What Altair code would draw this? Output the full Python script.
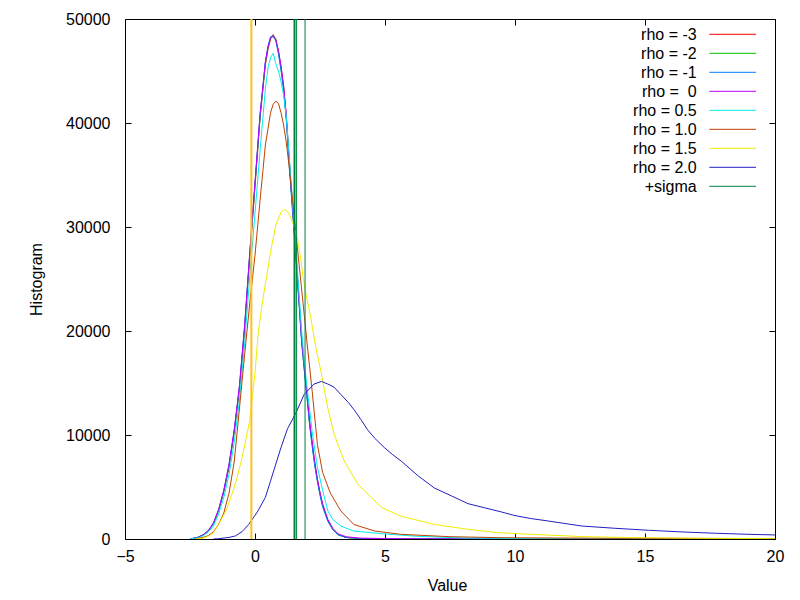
import altair as alt
import pandas as pd

# ---------------- data ----------------
names = ["rho = -3", "rho = -2", "rho = -1", "rho = \u00a00", "rho = 0.5",
         "rho = 1.0", "rho = 1.5", "rho = 2.0"]
colors = ["#ff0000", "#00c000", "#0080ff", "#c000ff", "#00eeee",
          "#c04000", "#eeee00", "#2020c0"]
sigma_name = "+sigma"
sigma_color = "#008040"
mean_color = "#ffc020"

x_main = [-2.5, -2.4, -2.2, -2.0, -1.8, -1.6, -1.4, -1.2, -1.0, -0.8, -0.6, -0.4, -0.2,
          0.0, 0.2, 0.4, 0.5, 0.6, 0.7, 0.8, 0.9, 1.0, 1.1, 1.2, 1.3, 1.4, 1.5, 1.6, 1.7,
          1.8, 1.9, 2.0, 2.1, 2.2, 2.3, 2.4, 2.5, 2.6, 2.8, 3.0, 3.2, 3.5, 4.0, 5.0, 6.0,
          8.0, 10.0, 14.0, 20.0]
y_rho_m3 = [0, 40, 150, 380, 750, 1450, 2700, 4500, 6900, 10200, 14300, 20000, 27200,
            33900, 40600, 45600, 47100, 48100, 48500, 48000, 46900, 45400, 43500, 40800,
            37000, 33400, 30000, 26400, 22700, 19000, 16400, 13900, 11200, 9200, 7200,
            5700, 4400, 3300, 1800, 900, 420, 150, 50, 20, 10, 5, 3, 1, 0]
y_rho_m2 = [0, 60, 170, 400, 780, 1500, 2750, 4600, 7000, 10300, 14500, 20300, 27400,
            34100, 40800, 45800, 47300, 48200, 48400, 48100, 46800, 45200, 43300, 40600,
            36800, 33200, 29800, 26200, 22500, 18800, 16200, 13700, 11000, 9000, 7100,
            5600, 4300, 3200, 1750, 880, 400, 140, 45, 18, 9, 4, 2, 1, 0]
y_rho_m1 = [0, 50, 160, 390, 770, 1480, 2800, 4650, 7100, 10400, 14600, 20400, 27500,
            34200, 40900, 45900, 47400, 48300, 48400, 47900, 46700, 45100, 43100, 40400,
            36600, 33000, 29600, 26000, 22400, 18700, 16100, 13600, 11000, 8900, 7000,
            5500, 4200, 3100, 1700, 860, 400, 150, 50, 20, 10, 5, 2, 1, 0]
y_rho_0 = [0, 50, 150, 400, 800, 1550, 2850, 4700, 7200, 10500, 14700, 20500, 27600,
           34300, 41000, 45900, 47300, 48200, 48300, 48000, 47000, 45500, 43600, 40900,
           37100, 33500, 30100, 26500, 22800, 19100, 16500, 14000, 11400, 9300, 7400,
           5800, 4500, 3400, 1900, 1000, 500, 220, 90, 40, 20, 8, 4, 2, 0]

x_rho_05 = [-2.5, -2.2, -2.0, -1.8, -1.6, -1.4, -1.2, -1.0, -0.8, -0.6, -0.4, -0.2, 0.0,
            0.2, 0.4, 0.5, 0.6, 0.7, 0.8, 0.9, 1.0, 1.1, 1.2, 1.3, 1.4, 1.5, 1.6, 1.7,
            1.8, 1.9, 2.0, 2.2, 2.4, 2.6, 2.8, 3.0, 3.3, 3.8, 5.0, 6.3, 8.0, 10.0, 14.0, 20.0]
y_rho_05 = [0, 100, 300, 650, 1250, 2400, 4000, 6200, 9300, 13300, 18800, 25300, 31300,
            37500, 43300, 45300, 46300, 46700, 45700, 45000, 44000, 42700, 40700, 37400,
            33900, 30500, 27000, 23400, 19800, 17000, 14600, 10300, 6900, 4700, 2700,
            1850, 1250, 760, 480, 250, 100, 45, 15, 5]

x_rho_10 = [-2.3, -2.2, -2.0, -1.8, -1.6, -1.4, -1.2, -1.0, -0.8, -0.6, -0.4, -0.2, 0.0,
            0.2, 0.4, 0.6, 0.7, 0.8, 0.9, 1.0, 1.1, 1.2, 1.3, 1.4, 1.5, 1.6, 1.7, 1.9,
            2.0, 2.2, 2.4, 2.6, 2.9, 3.3, 3.8, 4.6, 5.6, 7.5, 9.5, 12.0, 15.0, 20.0]
y_rho_10 = [0, 50, 150, 320, 700, 1400, 2500, 4400, 7400, 12500, 17700, 22700, 27300,
            32700, 37900, 41000, 41800, 42100, 41900, 41000, 39800, 38200, 36100, 33700,
            31200, 28700, 26300, 21400, 18900, 14200, 9100, 6400, 4400, 2700, 1400, 770,
            450, 220, 125, 90, 70, 40]

x_rho_15 = [-2.3, -2.0, -1.8, -1.6, -1.4, -1.1, -0.9, -0.7, -0.5, -0.2, 0.0, 0.13, 0.3,
            0.45, 0.6, 0.8, 1.0, 1.12, 1.28, 1.44, 1.63, 1.76, 1.85, 1.95, 2.15, 2.34,
            2.53, 2.79, 3.04, 3.43, 3.95, 4.46, 4.9, 5.6, 6.9, 8.2, 9.3, 10.6, 12.6, 14.5,
            17.0, 20.0]
y_rho_15 = [0, 80, 250, 600, 1400, 2800, 4200, 5800, 7800, 11400, 16000, 20000, 23000,
            25300, 27600, 30200, 31400, 31700, 31400, 30500, 28900, 26900, 25200, 23700,
            21200, 18400, 16200, 12700, 10100, 7500, 5300, 4000, 3000, 2200, 1400, 930,
            620, 450, 230, 130, 70, 30]

x_rho_20 = [-1.6, -1.4, -1.0, -0.75, -0.5, -0.24, 0.09, 0.4, 0.6, 0.8, 1.0, 1.25, 1.57,
            1.89, 2.27, 2.56, 2.8, 3.04, 3.3, 3.6, 3.82, 4.07, 4.33, 4.6, 4.97, 5.3, 5.62,
            6.26, 6.9, 7.55, 8.19, 8.83, 9.48, 10.0, 10.63, 11.28, 12.56, 13.85, 15.13,
            16.42, 17.71, 19.0, 20.0]
y_rho_20 = [0, 30, 150, 300, 700, 1400, 2600, 4000, 5600, 7200, 8800, 10600, 12100,
            13900, 14900, 15150, 14900, 14600, 13900, 13100, 12400, 11500, 10500, 9700,
            8800, 8100, 7500, 6100, 4900, 4150, 3400, 3000, 2600, 2250, 1960, 1730, 1250,
            1030, 840, 680, 550, 450, 390]

mean_x = [-0.14]
sigma_x = [1.52, 1.60, 1.925]
sigma_widths = [2, 1, 1]

x_ticks = [-5, 0, 5, 10, 15, 20]
y_ticks = [0, 10000, 20000, 30000, 40000, 50000]

series_x = [x_main, x_main, x_main, x_main, x_rho_05, x_rho_10, x_rho_15, x_rho_20]
series_y = [y_rho_m3, y_rho_m2, y_rho_m1, y_rho_0, y_rho_05, y_rho_10, y_rho_15, y_rho_20]

rows = []
for name, xs_, ys_ in zip(names, series_x, series_y):
    for xv, yv in zip(xs_, ys_):
        rows.append({"series": name, "x": xv, "y": yv})
df = pd.DataFrame(rows)

df_mean = pd.DataFrame({"x": mean_x, "y0": y_ticks[0], "y1": y_ticks[-1]})
df_sigma = pd.DataFrame({"x": sigma_x, "y0": y_ticks[0], "y1": y_ticks[-1],
                         "w": sigma_widths, "series": sigma_name})
legend_names = names + [sigma_name]
df_leg = pd.DataFrame({"series": legend_names})

# ---------------- layout / style ----------------
W, H = 650, 520
FONT = "Liberation Sans"
FS = 16

xs = alt.Scale(domain=[x_ticks[0], x_ticks[-1]], nice=False, zero=False)
ys = alt.Scale(domain=[y_ticks[0], y_ticks[-1]], nice=False)
color_scale = alt.Scale(domain=legend_names, range=colors + [sigma_color])


def tick_axis(orient, offset, values):
    return alt.Axis(orient=orient, offset=offset, values=values, labels=False,
                    domain=False, ticks=True, tickSize=6, tickColor="black",
                    tickWidth=1, grid=False, title=None)


x_label_axis = alt.Axis(orient="bottom", values=x_ticks, ticks=False, tickSize=0,
                        domain=False, grid=False, labelFont=FONT, labelFontSize=FS,
                        labelColor="black", labelPadding=9, labelFlush=False,
                        title="Value", titleFont=FONT, titleFontSize=FS,
                        titleFontWeight="normal", titleColor="black",
                        titleX=322, titleY=51, titleBaseline="alphabetic",
                        titleAlign="center")
y_label_axis = alt.Axis(orient="left", values=y_ticks, ticks=False, tickSize=0,
                        domain=False, grid=False, labelFont=FONT, labelFontSize=FS,
                        labelColor="black", labelPadding=15, labelFlush=False,
                        format="d", title="Histogram", titleFont=FONT,
                        titleFontSize=FS, titleFontWeight="normal", titleColor="black",
                        titleX=-84, titleY=H / 2, titleAngle=270,
                        titleBaseline="alphabetic", titleAlign="center")

lines = alt.Chart(df).mark_line(strokeWidth=1, clip=True).encode(
    x=alt.X("x:Q", scale=xs, axis=x_label_axis),
    y=alt.Y("y:Q", scale=ys, axis=y_label_axis),
    color=alt.Color("series:N", scale=color_scale, legend=None),
)

mean_rule = alt.Chart(df_mean).mark_rule(color=mean_color, strokeWidth=2).encode(
    x=alt.X("x:Q", scale=xs, axis=tick_axis("top", -H, x_ticks)),
    y=alt.Y("y0:Q", scale=ys, axis=tick_axis("right", -W, y_ticks)),
    y2="y1:Q",
)

sigma_rule = alt.Chart(df_sigma).mark_rule().encode(
    x=alt.X("x:Q", scale=xs, axis=tick_axis("bottom", -H, x_ticks)),
    y=alt.Y("y0:Q", scale=ys, axis=tick_axis("left", -W, y_ticks)),
    y2="y1:Q",
    color=alt.Color("series:N", scale=color_scale, legend=None),
    strokeWidth=alt.StrokeWidth("w:Q", scale=None),
)

leg_y = alt.Y("series:N", sort=legend_names, axis=None,
              scale=alt.Scale(type="point", range=[15.3, 167.3], padding=0))

leg_line = alt.Chart(df_leg).mark_rule(strokeWidth=1).encode(
    x=alt.value(584.3), x2=alt.value(631),
    y=leg_y,
    color=alt.Color("series:N", scale=color_scale, legend=None),
)
leg_text = alt.Chart(df_leg).mark_text(align="right", baseline="alphabetic", dy=5.5,
                                       font=FONT, fontSize=FS, color="black").encode(
    x=alt.value(571.7),
    y=leg_y,
    text="series:N",
)

chart = (
    alt.layer(lines, mean_rule, sigma_rule, leg_line, leg_text)
    .resolve_scale(y="independent")
    .resolve_axis(x="independent", y="independent")
    .properties(width=W, height=H,
                padding={"left": 117, "top": 11, "right": 17, "bottom": 61},
                autosize=alt.AutoSizeParams(type="none"),
                background="white")
    .configure_view(stroke="black", strokeWidth=1)
)

chart.save("out.html", embed_options={"renderer": "svg", "actions": False})
